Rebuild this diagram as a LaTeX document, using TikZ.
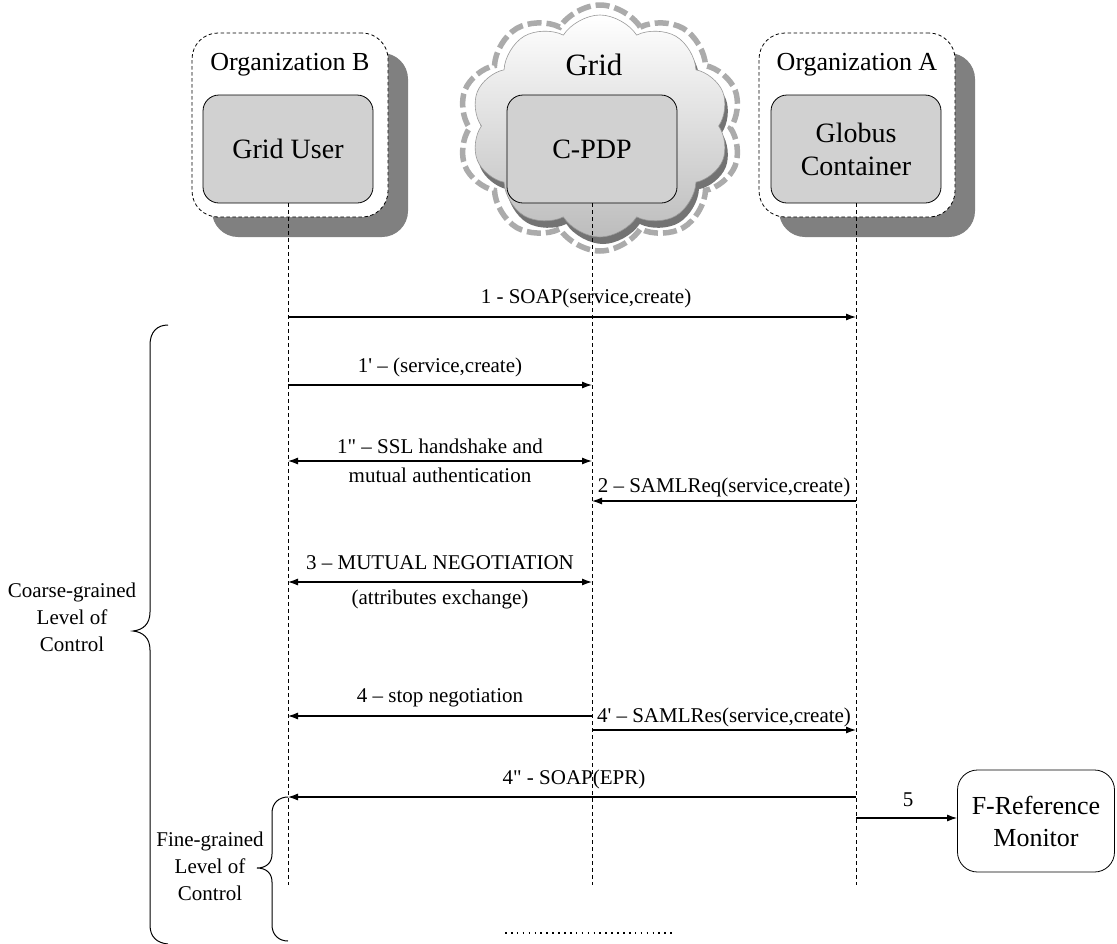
\documentclass[tikz,border=0pt]{standalone}
\usepackage{fontspec}
\setmainfont{Liberation Serif}[Ligatures=TeXOff]
\usetikzlibrary{shapes.symbols,arrows.meta}

\begin{document}
\begin{tikzpicture}[x=1pt,y=-1pt,
  orgbox/.style={draw=black, line width=0.8pt, dash pattern=on 3.5pt off 2.5pt,
    rounded corners=26pt, fill=white, minimum width=196pt, minimum height=184pt},
  orgshadow/.style={fill=black!50, rounded corners=26pt,
    minimum width=196pt, minimum height=184pt},
  actor/.style={draw=black, line width=0.8pt, fill=black!18, rounded corners=16pt,
    minimum width=170pt, minimum height=108pt, align=center,
    font=\fontsize{28}{33}\selectfont},
  orgname/.style={font=\fontsize{26}{30}\selectfont},
  lbl/.style={font=\fontsize{21}{26}\selectfont, inner sep=0pt},
  msg/.style={line width=1.1pt, -{Latex[length=10pt,width=7pt]}},
  bimsg/.style={line width=1.1pt, {Latex[length=10pt,width=7pt]}-{Latex[length=10pt,width=7pt]}},
  lifeline/.style={line width=0.8pt, dash pattern=on 4pt off 3pt},
  bracket/.style={line width=1pt},
  sidetext/.style={align=center, font=\fontsize{21}{27}\selectfont},
  puffy/.style={cloud, cloud puffs=10, cloud puff arc=115, inner sep=0pt},
  monitor/.style={draw=black, line width=0.8pt, fill=white, rounded corners=20pt,
    minimum width=157pt, minimum height=102pt, align=center,
    font=\fontsize{26}{32}\selectfont},
]
\useasboundingbox (0,0) rectangle (1117,943);

% Organization B
\node[orgshadow] (shB) at (310,145) {};
\node[orgbox] (orgB) at (290,125) {};
\node[orgname] (orgBname) at (290,65) {Organization B};
\node[actor] (gu) at (288,149) {Grid User};

% Organization A
\node[orgshadow] (shA) at (877,145) {};
\node[orgbox] (orgA) at (857,125) {};
\node[orgname] (orgAname) at (857,65) {Organization A};
\node[actor] (gc) at (856,149) {Globus\\Container};

% Grid cloud
\node[puffy, minimum width=284pt, minimum height=246pt, fill=white,
  draw=black!33, line width=5.5pt, dash pattern=on 14pt off 5pt] (gridOuter) at (600,128) {};
\node[puffy, minimum width=258pt, minimum height=222pt, fill=black!55] (gridShadow) at (603,133) {};
\node[puffy, minimum width=258pt, minimum height=222pt, draw=black!40, line width=0.6pt,
  top color=white, bottom color=black!26] (gridInner) at (600,126) {};
\node[font=\fontsize{31}{36}\selectfont] (gridname) at (594,65) {Grid};
\node[actor] (pdp) at (592,149) {C-PDP};

% Lifelines
\coordinate (guEnd) at (gu.south |- 0,885);
\coordinate (pdpEnd) at (pdp.south |- 0,885);
\coordinate (gcEnd) at (gc.south |- 0,885);
\draw[lifeline] (gu.south) -- (guEnd);
\draw[lifeline] (pdp.south) -- (pdpEnd);
\draw[lifeline] (gc.south) -- (gcEnd);

% Messages
\draw[msg] (gu.south |- 0,317) -- (gc.south |- 0,317);
\node[lbl] (m1) at (586,298) {1 - SOAP(service,create)};

\draw[msg] (gu.south |- 0,385) -- (pdp.south |- 0,385);
\node[lbl] (m1a) at (440,367) {1' – (service,create)};

\draw[bimsg] (gu.south |- 0,461) -- (pdp.south |- 0,461);
\node[lbl] (m1b) at (440,446) {1" – SSL handshake and};
\node[lbl] (m1c) at (440,475) {mutual authentication};

\draw[msg] (gc.south |- 0,501) -- (pdp.south |- 0,501);
\node[lbl] (m2) at (724,487) {2 – SAMLReq(service,create)};

\draw[bimsg] (gu.south |- 0,582) -- (pdp.south |- 0,582);
\node[lbl] (m3) at (440,563) {3 – MUTUAL NEGOTIATION};
\node[lbl] (m3b) at (440,599) {(attributes exchange)};

\draw[msg] (pdp.south |- 0,716) -- (gu.south |- 0,716);
\node[lbl] (m4) at (440,698) {4 – stop negotiation};

\draw[msg] (pdp.south |- 0,730) -- (gc.south |- 0,730);
\node[lbl] (m4a) at (724,717) {4' – SAMLRes(service,create)};

\draw[msg] (gc.south |- 0,797) -- (gu.south |- 0,797);
\node[lbl] (m4b) at (574,779) {4" - SOAP(EPR)};

% Fine-grained reference monitor
\node[monitor] (frm) at (1036,821) {F-Reference\\Monitor};
\draw[msg] (gc.south |- 0,818) -- (frm.west |- 0,818);
\node[lbl] (m5) at (908,800) {5};

% Coarse-grained brace
\draw[bracket] (168,325) .. controls (157,325) and (150,332) .. (150,345)
  -- (150,612) .. controls (150,624) and (143,630) .. (133,631)
  .. controls (143,632) and (150,638) .. (150,650)
  -- (150,925) .. controls (150,937) and (157,943) .. (168,944);
\node[sidetext] (coarse) at (72,617) {Coarse-grained\\Level of\\Control};

% Fine-grained brace
\draw[bracket] (288,797) .. controls (279,797) and (272,803) .. (272,813)
  -- (272,854) .. controls (272,863) and (266,868) .. (257,868)
  .. controls (266,868) and (272,873) .. (272,882)
  -- (272,925) .. controls (272,935) and (279,941) .. (288,941);
\node[sidetext] (fine) at (210,866) {Fine-grained\\Level of\\Control};

% Continuation dots
\draw[line width=1.6pt, dash pattern=on 1.6pt off 4.3pt] (505,933) -- (672,933);
\end{tikzpicture}
\end{document}
